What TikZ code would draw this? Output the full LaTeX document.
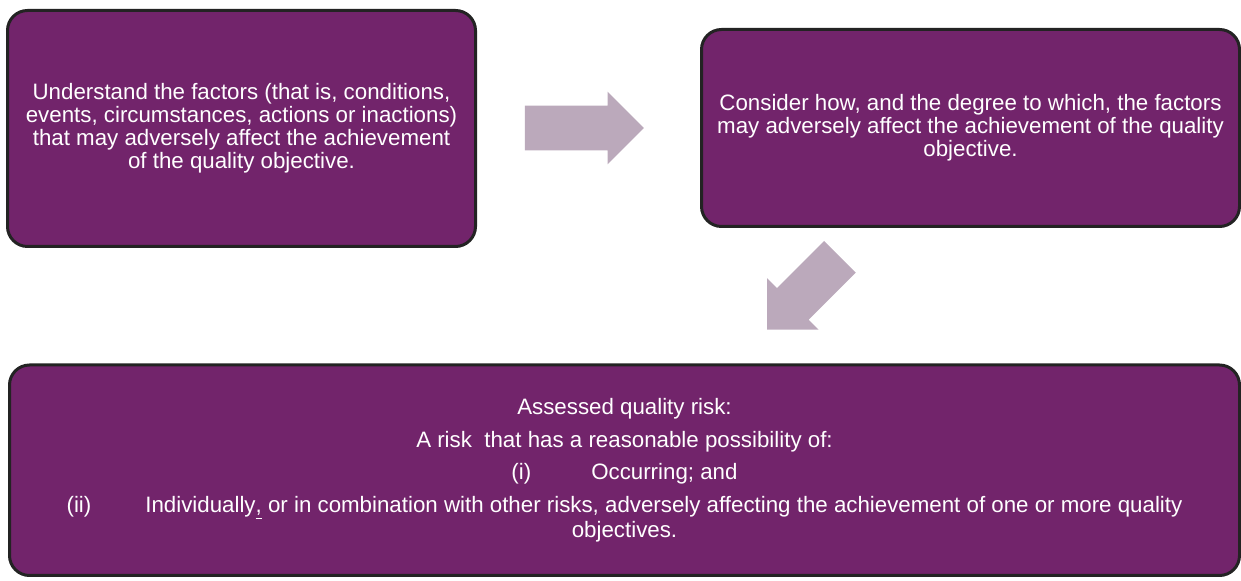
\documentclass[tikz,border=0pt]{standalone}
\usepackage{fontspec}
\setmainfont{Liberation Sans}
\usetikzlibrary{shapes.arrows,positioning,calc}
\definecolor{boxpurple}{HTML}{72246B}
\definecolor{edgegray}{HTML}{232323}
\definecolor{mauve}{HTML}{BBA9BB}

\tikzset{
  riskbox/.style={draw=edgegray, line width=1.5pt, fill=boxpurple, rounded corners=10pt,
    text=white, align=center, inner sep=0pt,
    font=\fontsize{11.15}{11.5}\selectfont},
  fatarrow/.style={single arrow, fill=mauve, draw=none, inner xsep=0pt, inner ysep=11pt,
    minimum width=36pt, single arrow head extend=7pt, anchor=tip}
}

\begin{document}
\begin{tikzpicture}[x=0.5pt, y=-0.5pt]
  \useasboundingbox (0,0) rectangle (1241,581);
  % the three steps
  \node[riskbox, minimum width=234pt, minimum height=118pt] (factors) at (241.5,128.5)
    {Understand the factors (that is, conditions,\\
     events, circumstances, actions or inactions)\\
     that may adversely affect the achievement\\
     of the quality objective.};
  \node[riskbox, minimum width=269pt, minimum height=98.5pt] (degree) at (970.5,128)
    {Consider how, and the degree to which, the factors\\
     may adversely affect the achievement of the quality\\
     objective.};
  \node[riskbox, minimum width=615pt, minimum height=105.25pt] (assessed) at (624.5,470.25)
    {Assessed quality risk:\\[4.75pt]
     A risk\ \ that has a reasonable possibility of:\\[4.75pt]
     (i)\hspace{30pt}Occurring; and\\[4.75pt]
     (ii)\hspace{27pt}Individually\underline{,} or in combination with other risks, adversely affecting the achievement of one or more quality\\
     objectives.};
  % block arrows between them
  \node[fatarrow, minimum height=59.5pt] (toDegree) at (644.5,128) {};
  \node[fatarrow, minimum height=51.5pt, rotate=225] (toAssessed) at (766.7,330) {};
\end{tikzpicture}
\end{document}
